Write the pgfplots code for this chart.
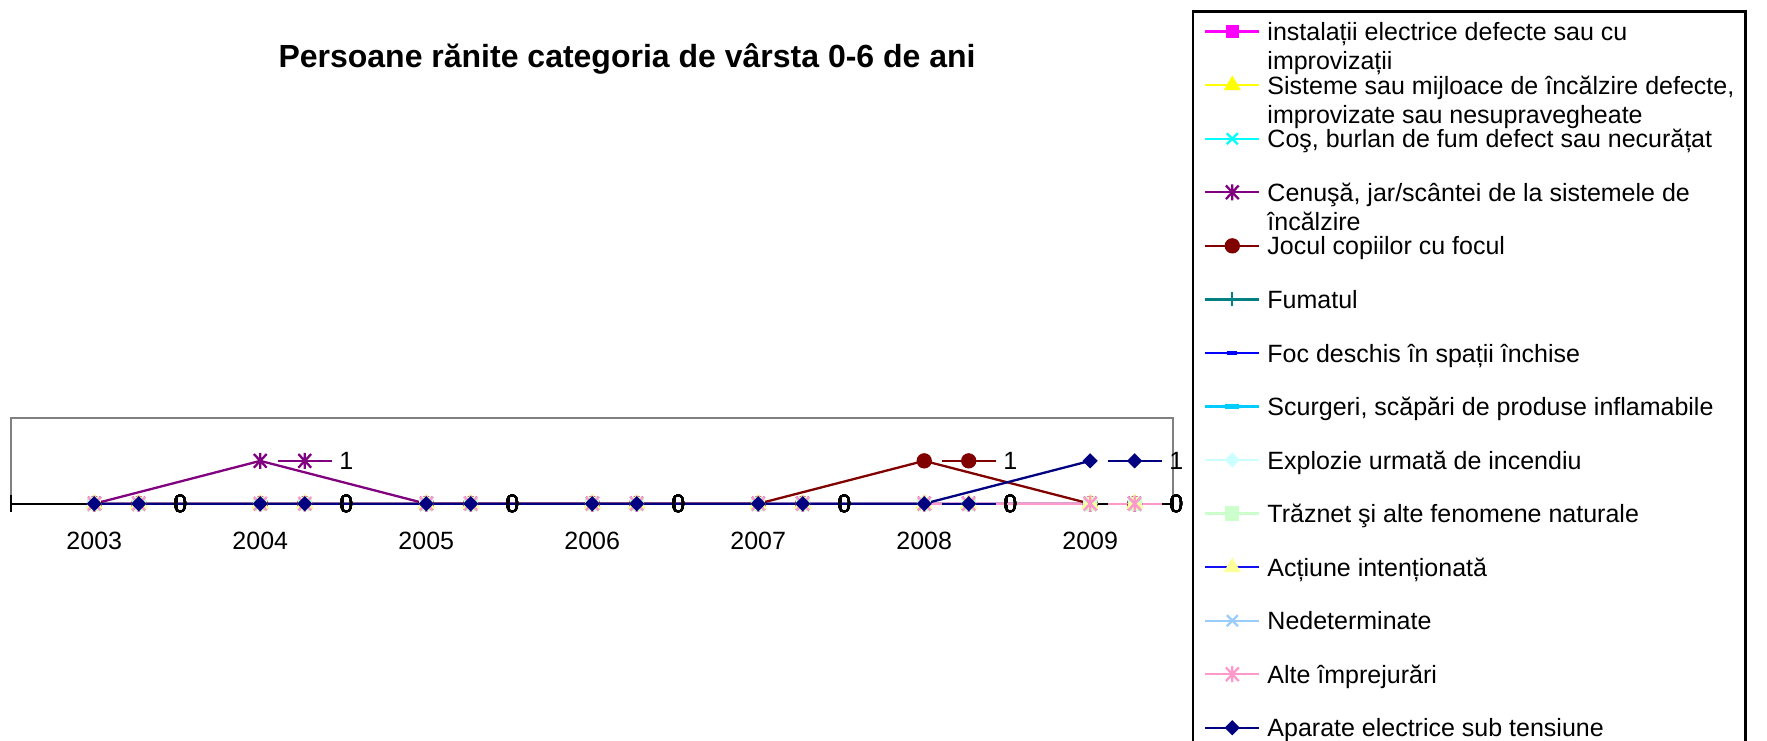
\documentclass[border=0pt]{standalone}
\usepackage{fontspec}
\setmainfont{Liberation Sans}
\usepackage{pgfplots}
\usepackage{pgfplotstable}
\pgfplotsset{compat=1.18}
\usetikzlibrary{plotmarks}

\definecolor{c1}{HTML}{FF00FF}
\definecolor{c2}{HTML}{FFFF00}
\definecolor{c3}{HTML}{00FFFF}
\definecolor{c4}{HTML}{800080}
\definecolor{c5}{HTML}{800000}
\definecolor{c6}{HTML}{008080}
\definecolor{c7}{HTML}{0000FF}
\definecolor{c8}{HTML}{00CCFF}
\definecolor{c9}{HTML}{CCFFFF}
\definecolor{c10}{HTML}{CCFFCC}
\definecolor{c11}{HTML}{1010F0}
\definecolor{c11m}{HTML}{FFFF99}
\definecolor{c12}{HTML}{99CCFF}
\definecolor{c13}{HTML}{FF99CC}
\definecolor{c14}{HTML}{000080}
\definecolor{framegray}{HTML}{808080}

\pgfdeclareplotmark{xstar}{%
  \pgfpathmoveto{\pgfqpoint{-0.8\pgfplotmarksize}{-0.85\pgfplotmarksize}}%
  \pgfpathlineto{\pgfqpoint{0.8\pgfplotmarksize}{0.85\pgfplotmarksize}}%
  \pgfpathmoveto{\pgfqpoint{-0.8\pgfplotmarksize}{0.85\pgfplotmarksize}}%
  \pgfpathlineto{\pgfqpoint{0.8\pgfplotmarksize}{-0.85\pgfplotmarksize}}%
  \pgfpathmoveto{\pgfqpoint{0pt}{-\pgfplotmarksize}}%
  \pgfpathlineto{\pgfqpoint{0pt}{\pgfplotmarksize}}%
  \pgfusepathqstroke}
\pgfdeclareplotmark{bx}{%
  \pgfpathmoveto{\pgfqpoint{-\pgfplotmarksize}{-\pgfplotmarksize}}%
  \pgfpathlineto{\pgfqpoint{\pgfplotmarksize}{\pgfplotmarksize}}%
  \pgfpathmoveto{\pgfqpoint{-\pgfplotmarksize}{\pgfplotmarksize}}%
  \pgfpathlineto{\pgfqpoint{\pgfplotmarksize}{-\pgfplotmarksize}}%
  \pgfusepathqstroke}
\pgfdeclareplotmark{bplus}{%
  \pgfpathmoveto{\pgfqpoint{-\pgfplotmarksize}{0pt}}%
  \pgfpathlineto{\pgfqpoint{\pgfplotmarksize}{0pt}}%
  \pgfpathmoveto{\pgfqpoint{0pt}{\pgfplotmarksize}}%
  \pgfpathlineto{\pgfqpoint{0pt}{-\pgfplotmarksize}}%
  \pgfusepathqstroke}
\pgfdeclareplotmark{rdiamond}{%
  \pgfpathmoveto{\pgfqpoint{0pt}{\pgfplotmarksize}}%
  \pgfpathlineto{\pgfqpoint{\pgfplotmarksize}{0pt}}%
  \pgfpathlineto{\pgfqpoint{0pt}{-\pgfplotmarksize}}%
  \pgfpathlineto{\pgfqpoint{-\pgfplotmarksize}{0pt}}%
  \pgfpathclose\pgfusepathqfillstroke}
\pgfdeclareplotmark{sdash}{%
  \pgfpathrectangle{\pgfqpoint{-5pt}{-1.8pt}}{\pgfqpoint{10pt}{3.6pt}}\pgfusepathqfill}
\pgfdeclareplotmark{ldash}{%
  \pgfpathrectangle{\pgfqpoint{-7pt}{-2.6pt}}{\pgfqpoint{14pt}{5.2pt}}\pgfusepathqfill}

\newcommand\LL[1]{\smash{\begin{tabular}[t]{@{}l@{}}#1\end{tabular}}}
\newcommand\fs{\fontsize{25}{29}\selectfont}

\pgfplotsset{
  lab/.style={forget plot, only marks,
    error bars/.cd, x dir=both, x fixed=0.163, error mark=none,
    error bar style={line width=2.3pt, solid},
    /pgfplots/.cd,
    nodes near coords,
    every node near coord/.append style={anchor=west, xshift=33.5pt, inner sep=0pt, font=\fs, text=black}},
}

\newcommand\series[3]{%
  \addplot[#2, line width=2.3pt] table[x=x,y=s#1]{\data};
  \addlegendentry{\LL{#3}}
  \addplot[#2, line width=2.3pt, lab] table[x expr=\thisrow{x}+0.268, y=s#1]{\data};
}

\pgfplotstableread{
x s1 s2 s3 s4 s5 s6 s7 s8 s9 s10 s11 s12 s13 s14
0 0 0 0 0 0 0 0 0 0 0 0 0 0 0
1 0 0 0 1 0 0 0 0 0 0 0 0 0 0
2 0 0 0 0 0 0 0 0 0 0 0 0 0 0
3 0 0 0 0 0 0 0 0 0 0 0 0 0 0
4 0 0 0 0 0 0 0 0 0 0 0 0 0 0
5 0 0 0 0 1 0 0 0 0 0 0 0 0 0
6 0 0 0 0 0 0 0 0 0 0 0 0 0 1
}\data

\begin{document}
\begin{tikzpicture}
\useasboundingbox (0pt,0pt) rectangle (1767pt,-740pt);
\clip (0pt,0pt) rectangle (1767pt,-740pt);
\begin{axis}[at={(11.3pt,-503.7pt)}, anchor=south west, scale only axis,
  width=1162pt, height=85.7pt, xmin=-0.5, xmax=6.5, ymin=0, ymax=2,
  axis line style={draw=framegray, line width=2.2pt}, xtick=\empty, ytick=\empty]
\end{axis}
\begin{axis}[at={(11.3pt,-503.7pt)}, anchor=south west, scale only axis,
  width=1162pt, height=85.7pt, xmin=-0.5, xmax=6.5, ymin=0, ymax=2, clip=false,
  axis x line=bottom, axis y line=none,
  x axis line style={black, line width=2.2pt, -},
  xtick={0,1,2,3,4,5,6},
  xticklabels={2003,2004,2005,2006,2007,2008,2009},
  major tick length=0pt,
  minor xtick={-0.5,0.5,1.5,2.5,3.5,4.5,5.5,6.5},
  minor tick length=17pt, tick align=center,
  minor tick style={black, line width=2.2pt},
  xticklabel style={font=\fs, anchor=north, inner sep=0pt, yshift=-28pt},
  /pgf/number format/assume math mode=true,
  title={Persoane rănite categoria de vârsta 0-6 de ani},
  title style={at={(0.53,5.12)}, anchor=center, inner sep=0pt,
    font=\bfseries\fontsize{32}{36}\selectfont},
  legend cell align=left,
  legend image code/.code={\draw[mark indices={2},#1] plot coordinates {(0pt,0pt) (27pt,0pt) (54pt,0pt)};},
  legend style={at={(1.0161,5.76)}, anchor=north west, draw=black,
    line width=2.5pt, inner xsep=11pt, inner ysep=0.3pt, row sep=13.55pt,
    column sep=7pt, font=\fs,
    nodes={inner sep=0pt, text height=29.1pt, text depth=10.9pt}},
]
\series{1}{color=c1, mark=square*, mark size=5.5pt, mark options={fill=c1}}{instalații electrice defecte sau cu\\improvizații}
\series{2}{color=c2, mark=triangle*, mark size=7.5pt, mark options={fill=c2}}{Sisteme sau mijloace de încălzire defecte,\\improvizate sau nesupravegheate}
\series{3}{color=c3, mark=bx, mark size=5.5pt}{Coş, burlan de fum defect sau necurățat}
\series{4}{color=c4, mark=xstar, mark size=8pt}{Cenuşă, jar/scântei de la sistemele de\\încălzire}
\series{5}{color=c5, mark=*, mark size=6.5pt, mark options={fill=c5}}{Jocul copiilor cu focul}
\series{6}{color=c6, mark=bplus, mark size=7pt}{Fumatul}
\series{7}{color=c7, mark=sdash, mark options={fill=c7}}{Foc deschis în spații închise}
\series{8}{color=c8, mark=ldash, mark options={fill=c8}}{Scurgeri, scăpări de produse inflamabile}
\series{9}{color=c9, mark=rdiamond, mark size=6pt, mark options={fill=c9}}{Explozie urmată de incendiu}
\series{10}{color=c10, mark=square*, mark size=6pt, mark options={fill=c10}}{Trăznet şi alte fenomene naturale}
\series{11}{color=c11, mark=triangle*, mark size=7.5pt, mark options={draw=c11m, fill=c11m}}{Acțiune intenționată}
\series{12}{color=c12, mark=bx, mark size=5.5pt}{Nedeterminate}
\series{13}{color=c13, mark=xstar, mark size=8pt}{Alte împrejurări}
\series{14}{color=c14, mark=rdiamond, mark size=6pt, mark options={fill=c14}}{Aparate electrice sub tensiune}
\end{axis}
\end{tikzpicture}
\end{document}
